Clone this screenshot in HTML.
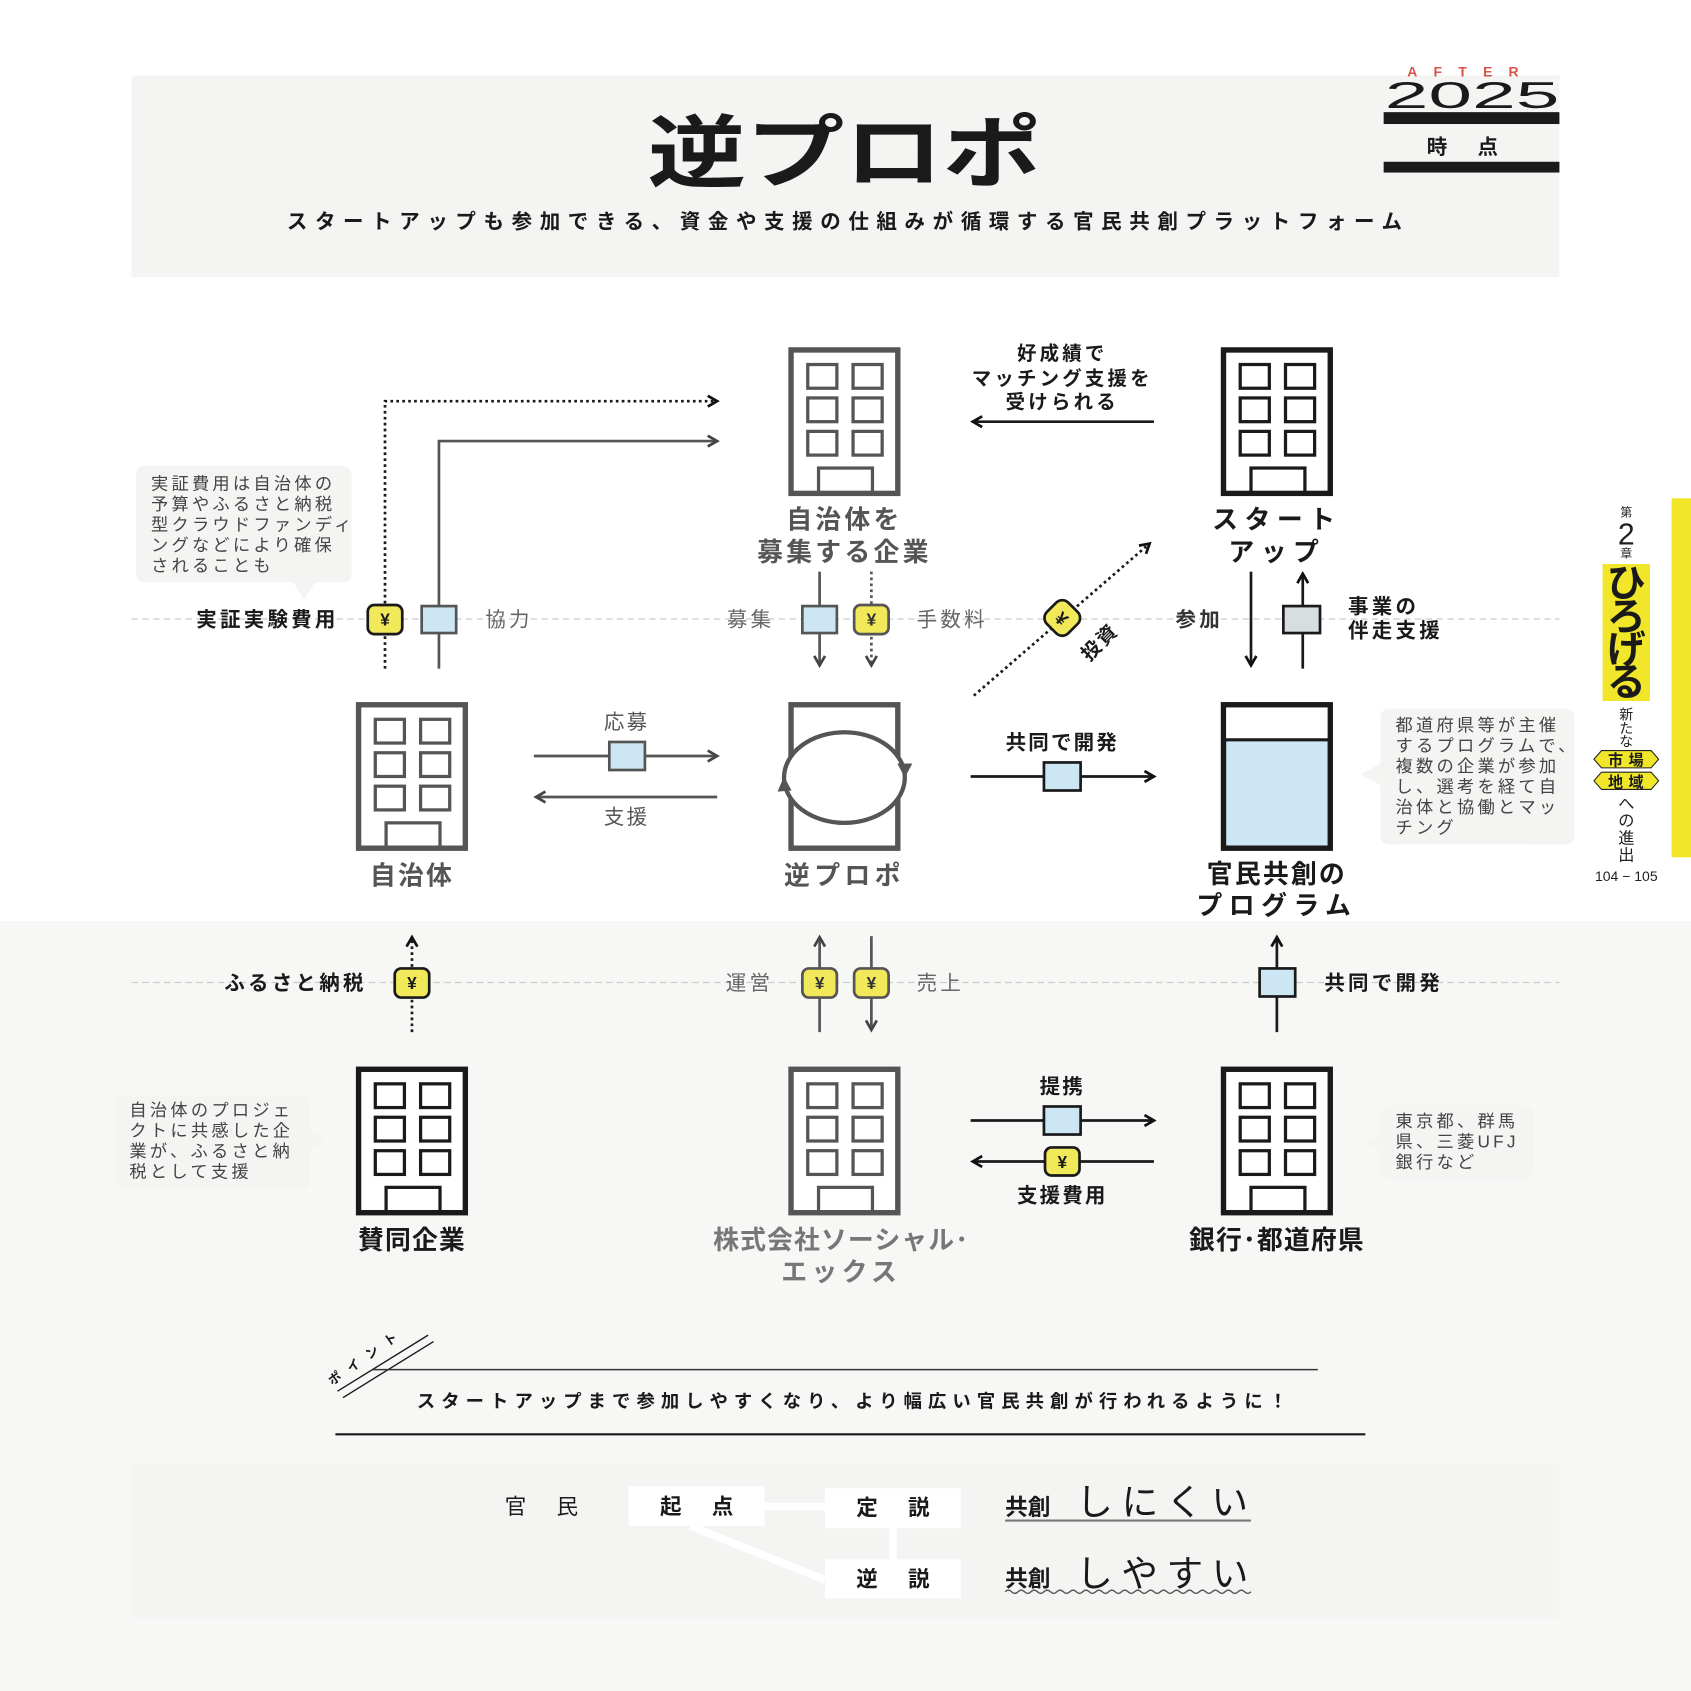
<!DOCTYPE html>
<html><head><meta charset="utf-8"><style>
html,body{margin:0;padding:0;background:#fff}
svg{display:block}
text{font-family:"Liberation Sans","Noto Sans CJK JP",sans-serif}
</style></head><body>
<svg width="1691" height="1691" viewBox="0 0 1568 1568" xmlns="http://www.w3.org/2000/svg">
<defs>
<marker id="ah" viewBox="0 0 10 10" refX="8" refY="5" markerWidth="5" markerHeight="5" orient="auto"><path d="M1,1 L8,5 L1,9" fill="none" stroke="#444" stroke-width="2"/></marker>
<marker id="ahb" viewBox="0 0 10 10" refX="8" refY="5" markerWidth="5" markerHeight="5" orient="auto"><path d="M1,1 L8,5 L1,9" fill="none" stroke="#111" stroke-width="2"/></marker>
<g id="bld"><rect x="2.5" y="2.5" width="99" height="133" fill="#fff" stroke-width="5"/>
<g fill="none" stroke-width="3"><rect x="18" y="16" width="27" height="22"/><rect x="60" y="16" width="27" height="22"/><rect x="18" y="47" width="27" height="22"/><rect x="60" y="47" width="27" height="22"/><rect x="18" y="78" width="27" height="22"/><rect x="60" y="78" width="27" height="22"/><rect x="28" y="112" width="50" height="24"/></g></g>
</defs>
<rect x="0" y="854" width="1568" height="714" fill="#f7f7f5"/>
<!-- header -->
<rect x="122" y="70" width="1324" height="187" fill="#f4f4f3"/>
<text x="783" y="168" font-size="74" font-weight="bold" text-anchor="middle" fill="#1a1a1a" textLength="365" lengthAdjust="spacingAndGlyphs">逆プロポ</text>
<text x="783" y="212" font-size="19" font-weight="bold" text-anchor="middle" fill="#1a1a1a" textLength="1034">スタートアップも参加できる、資金や支援の仕組みが循環する官民共創プラットフォーム</text>
<text x="1364" y="71" font-size="13" font-weight="bold" fill="#d9534a" text-anchor="middle" letter-spacing="15">AFTER</text>
<text x="1365" y="100" font-size="34" fill="#1a1a1a" text-anchor="middle" textLength="162" lengthAdjust="spacingAndGlyphs">2025</text>
<rect x="1283" y="104" width="163" height="11" fill="#1a1a1a"/>
<text x="1370" y="143" font-size="19" font-weight="bold" fill="#1a1a1a" text-anchor="middle" letter-spacing="28">時点</text>
<rect x="1283" y="150" width="163" height="10" fill="#1a1a1a"/>
<!-- sidebar -->
<rect x="1550" y="462" width="18" height="333" fill="#f1e62a"/>
<text x="1508" y="479" font-size="11" text-anchor="middle" fill="#222">第</text>
<text x="1508" y="505" font-size="28" text-anchor="middle" fill="#222">2</text>
<text x="1508" y="517" font-size="11" text-anchor="middle" fill="#222">章</text>
<rect x="1486" y="523" width="44" height="127" fill="#f1e62a"/>
<g font-size="36" font-weight="bold" text-anchor="middle" fill="#1a1a1a"><text x="1508" y="553">ひ</text><text x="1508" y="584">ろ</text><text x="1508" y="615">げ</text><text x="1508" y="645">る</text></g>
<g font-size="13" text-anchor="middle" fill="#222"><text x="1508" y="667">新</text><text x="1508" y="680">た</text><text x="1508" y="692">な</text></g>
<g font-size="15" text-anchor="middle" fill="#222"><text x="1508" y="750">へ</text><text x="1508" y="766">の</text><text x="1508" y="782">進</text><text x="1508" y="798">出</text></g>
<polygon points="1478,704 1485,696 1531,696 1538,704 1531,712 1485,712" fill="#f1e62a" stroke="#222" stroke-width="1"/>
<polygon points="1478,724 1485,716 1531,716 1538,724 1531,732 1485,732" fill="#f1e62a" stroke="#222" stroke-width="1"/>
<text x="1510" y="710" font-size="14" font-weight="bold" text-anchor="middle" fill="#1a1a1a" letter-spacing="5">市場</text>
<text x="1510" y="730" font-size="14" font-weight="bold" text-anchor="middle" fill="#1a1a1a" letter-spacing="5">地域</text>
<text x="1508" y="817" font-size="13" text-anchor="middle" fill="#222">104 − 105</text>
<!-- dashed rows -->
<line x1="122" y1="574" x2="1446" y2="574" stroke="#ccc" stroke-width="1.2" stroke-dasharray="6,4"/>
<line x1="122" y1="911" x2="1446" y2="911" stroke="#ccc" stroke-width="1.2" stroke-dasharray="6,4"/>
<!-- buildings -->
<use href="#bld" x="731" y="322" stroke="#555"/>
<use href="#bld" x="1132" y="322" stroke="#1a1a1a"/>
<use href="#bld" x="330" y="651" stroke="#555"/>
<use href="#bld" x="330" y="989" stroke="#1a1a1a"/>
<use href="#bld" x="731" y="989" stroke="#555"/>
<use href="#bld" x="1132" y="989" stroke="#1a1a1a"/>
<rect x="733.5" y="653.5" width="99" height="133" fill="#fff" stroke="#555" stroke-width="5"/>
<rect x="750" y="656" width="66" height="6" fill="#fff"/>
<ellipse cx="783" cy="721" rx="56" ry="42" fill="#fff" stroke="#555" stroke-width="4"/>
<path d="M721,734 l6,-14 l7,13 z" fill="#555"/><path d="M832,708 l7,13 l7,-13 z" fill="#555"/>
<rect x="1134.5" y="653.5" width="99" height="133" fill="#cde6f3" stroke="#1a1a1a" stroke-width="5"/>
<rect x="1137" y="656" width="94" height="30" fill="#fff"/><line x1="1134" y1="686" x2="1234" y2="686" stroke="#1a1a1a" stroke-width="3"/>
<!-- labels -->
<g font-size="24" font-weight="bold" text-anchor="middle">
<text x="783" y="490" fill="#555" letter-spacing="3">自治体を</text><text x="783" y="520" fill="#555" letter-spacing="3">募集する企業</text>
<text x="1184" y="490" fill="#1a1a1a" letter-spacing="6">スタート</text><text x="1184" y="520" fill="#1a1a1a" letter-spacing="6">アップ</text>
<text x="382" y="820" fill="#555" letter-spacing="2">自治体</text>
<text x="783" y="820" fill="#555" letter-spacing="4">逆プロポ</text>
<text x="1184" y="819" fill="#1a1a1a" letter-spacing="2">官民共創の</text><text x="1184" y="848" fill="#1a1a1a" letter-spacing="6">プログラム</text>
<text x="382" y="1158" fill="#1a1a1a" letter-spacing="1">賛同企業</text>
<text x="780" y="1158" fill="#777" letter-spacing="1">株式会社ソーシャル･</text><text x="780" y="1188" fill="#777" letter-spacing="4">エックス</text>
<text x="1184" y="1158" fill="#1a1a1a" letter-spacing="1">銀行･都道府県</text>
</g>
<!-- row1 connectors -->
<path d="M357,620 V372 H665" fill="none" stroke="#1a1a1a" stroke-width="2.5" stroke-dasharray="2.5,3" marker-end="url(#ahb)"/>
<path d="M407,620 V409 H665" fill="none" stroke="#555" stroke-width="2.5" marker-end="url(#ah)"/>
<rect x="126" y="432" width="200" height="108" rx="8" fill="#f4f4f3"/><polygon points="272,540 292,540 282,556" fill="#f4f4f3"/>
<g font-size="16" fill="#444" letter-spacing="3"><text x="140" y="454">実証費用は自治体の</text><text x="140" y="473">予算やふるさと納税</text><text x="140" y="492">型クラウドファンディ</text><text x="140" y="511">ングなどにより確保</text><text x="140" y="530">されることも</text></g>
<g font-size="19" letter-spacing="3">
<text x="314" y="581" font-weight="bold" text-anchor="end" fill="#1a1a1a">実証実験費用</text>
<text x="450" y="581" fill="#666">協力</text>
<text x="718" y="581" text-anchor="end" fill="#666">募集</text>
<text x="850" y="581" fill="#666">手数料</text>
<text x="1090" y="581" font-weight="bold" fill="#333">参加</text>
<text x="1250" y="569" font-weight="bold" fill="#1a1a1a">事業の</text><text x="1250" y="591" font-weight="bold" fill="#1a1a1a">伴走支援</text>
<text x="340" y="918" font-weight="bold" text-anchor="end" fill="#1a1a1a">ふるさと納税</text>
<text x="717" y="918" text-anchor="end" fill="#666">運営</text>
<text x="850" y="918" fill="#666">売上</text>
<text x="1228" y="918" font-weight="bold" fill="#1a1a1a">共同で開発</text>
</g>
<line x1="760" y1="530" x2="760" y2="617" stroke="#555" stroke-width="2.5" marker-end="url(#ah)"/>
<line x1="808" y1="530" x2="808" y2="617" stroke="#555" stroke-width="2.5" stroke-dasharray="2.5,3" marker-end="url(#ah)"/>
<line x1="903" y1="645" x2="1066" y2="504" stroke="#1a1a1a" stroke-width="2.5" stroke-dasharray="2.5,3" marker-end="url(#ahb)"/>
<g transform="rotate(45 985 573)"><rect x="971" y="559" width="28" height="28" rx="8" fill="#f1e85a" stroke="#1a1a1a" stroke-width="2.5"/><text x="985" y="580" font-size="17" font-weight="bold" text-anchor="middle" fill="#1a1a1a">¥</text></g>
<text x="0" y="0" font-size="18" font-weight="bold" fill="#1a1a1a" letter-spacing="2" transform="translate(1010,614) rotate(-45)">投資</text>
<line x1="1160" y1="530" x2="1160" y2="617" stroke="#1a1a1a" stroke-width="2.5" marker-end="url(#ahb)"/>
<line x1="1208" y1="620" x2="1208" y2="532" stroke="#1a1a1a" stroke-width="2.5" marker-end="url(#ahb)"/>
<g font-size="18" font-weight="bold" text-anchor="middle" fill="#1a1a1a" letter-spacing="3"><text x="985" y="334">好成績で</text><text x="985" y="357">マッチング支援を</text><text x="985" y="379">受けられる</text></g>
<line x1="1070" y1="391" x2="902" y2="391" stroke="#1a1a1a" stroke-width="2.5" marker-end="url(#ahb)"/>
<!-- row2 -->
<text x="581" y="676" font-size="19" text-anchor="middle" fill="#555" letter-spacing="2">応募</text>
<line x1="495" y1="701" x2="665" y2="701" stroke="#555" stroke-width="2.5" marker-end="url(#ah)"/>
<line x1="665" y1="739" x2="497" y2="739" stroke="#555" stroke-width="2.5" marker-end="url(#ah)"/>
<text x="581" y="764" font-size="19" text-anchor="middle" fill="#555" letter-spacing="2">支援</text>
<text x="985" y="695" font-size="19" font-weight="bold" text-anchor="middle" fill="#1a1a1a" letter-spacing="2">共同で開発</text>
<line x1="900" y1="720" x2="1070" y2="720" stroke="#1a1a1a" stroke-width="2.5" marker-end="url(#ahb)"/>
<rect x="1280" y="657" width="180" height="126" rx="8" fill="#f4f4f3"/><polygon points="1280,708 1280,728 1262,718" fill="#f4f4f3"/>
<g font-size="16" fill="#444" letter-spacing="3"><text x="1294" y="678">都道府県等が主催</text><text x="1294" y="697">するプログラムで、</text><text x="1294" y="716">複数の企業が参加</text><text x="1294" y="735">し、選考を経て自</text><text x="1294" y="754">治体と協働とマッ</text><text x="1294" y="773">チング</text></g>
<!-- row3 -->
<line x1="382" y1="957" x2="382" y2="869" stroke="#1a1a1a" stroke-width="2.5" stroke-dasharray="2.5,3" marker-end="url(#ahb)"/>
<line x1="760" y1="957" x2="760" y2="869" stroke="#555" stroke-width="2.5" marker-end="url(#ah)"/>
<line x1="808" y1="868" x2="808" y2="955" stroke="#555" stroke-width="2.5" marker-end="url(#ah)"/>
<line x1="1184" y1="957" x2="1184" y2="869" stroke="#1a1a1a" stroke-width="2.5" marker-end="url(#ahb)"/>
<rect x="107" y="1015" width="181" height="88" rx="8" fill="#f4f4f3"/><polygon points="288,1048 288,1066 302,1057" fill="#f4f4f3"/>
<g font-size="16" fill="#444" letter-spacing="3"><text x="120" y="1035">自治体のプロジェ</text><text x="120" y="1054">クトに共感した企</text><text x="120" y="1073">業が、ふるさと納</text><text x="120" y="1092">税として支援</text></g>
<rect x="1280" y="1025" width="142" height="68" rx="8" fill="#f4f4f3"/><polygon points="1280,1050 1280,1068 1266,1059" fill="#f4f4f3"/>
<g font-size="16" fill="#444" letter-spacing="3"><text x="1294" y="1045">東京都、群馬</text><text x="1294" y="1064">県、三菱UFJ</text><text x="1294" y="1083">銀行など</text></g>
<!-- row4 -->
<text x="985" y="1014" font-size="19" font-weight="bold" text-anchor="middle" fill="#1a1a1a" letter-spacing="2">提携</text>
<line x1="900" y1="1039" x2="1070" y2="1039" stroke="#1a1a1a" stroke-width="2.5" marker-end="url(#ahb)"/>
<line x1="1070" y1="1077" x2="902" y2="1077" stroke="#1a1a1a" stroke-width="2.5" marker-end="url(#ahb)"/>
<text x="985" y="1115" font-size="19" font-weight="bold" text-anchor="middle" fill="#1a1a1a" letter-spacing="2">支援費用</text>
<!-- small boxes -->
<g stroke-width="2.5">
<rect x="391" y="562" width="32" height="25" fill="#cde6f3" stroke="#555"/>
<rect x="744" y="562" width="32" height="25" fill="#cde6f3" stroke="#555"/>
<rect x="1190" y="562" width="34" height="25" fill="#d8dde0" stroke="#1a1a1a"/>
<rect x="565" y="688" width="33" height="26" fill="#cde6f3" stroke="#555"/>
<rect x="968" y="707" width="34" height="26" fill="#cde6f3" stroke="#1a1a1a"/>
<rect x="1168" y="898" width="33" height="26" fill="#cde6f3" stroke="#1a1a1a"/>
<rect x="968" y="1026" width="34" height="26" fill="#cde6f3" stroke="#1a1a1a"/>
</g>
<g stroke-width="2.5" font-size="16" font-weight="bold" text-anchor="middle">
<rect x="341" y="561" width="32" height="27" rx="6" fill="#f1e85a" stroke="#1a1a1a"/><text x="357" y="580" fill="#1a1a1a" stroke="none">¥</text>
<rect x="792" y="561" width="32" height="27" rx="6" fill="#f1e85a" stroke="#555"/><text x="808" y="580" fill="#333" stroke="none">¥</text>
<rect x="366" y="898" width="32" height="27" rx="6" fill="#f1e85a" stroke="#1a1a1a"/><text x="382" y="917" fill="#1a1a1a" stroke="none">¥</text>
<rect x="744" y="898" width="32" height="27" rx="6" fill="#f1e85a" stroke="#555"/><text x="760" y="917" fill="#333" stroke="none">¥</text>
<rect x="792" y="898" width="32" height="27" rx="6" fill="#f1e85a" stroke="#555"/><text x="808" y="917" fill="#333" stroke="none">¥</text>
<rect x="969" y="1064" width="32" height="26" rx="6" fill="#f1e85a" stroke="#1a1a1a"/><text x="985" y="1083" fill="#1a1a1a" stroke="none">¥</text>
</g>
<!-- point -->
<line x1="313" y1="1290" x2="397" y2="1238" stroke="#1a1a1a" stroke-width="1.3"/>
<line x1="318" y1="1296" x2="402" y2="1244" stroke="#1a1a1a" stroke-width="1.3"/>
<text x="0" y="0" font-size="12" font-weight="bold" fill="#1a1a1a" letter-spacing="9" transform="translate(308,1285) rotate(-35)">ポイント</text>
<line x1="345" y1="1270" x2="1222" y2="1270" stroke="#333" stroke-width="1.5"/>
<text x="790" y="1305" font-size="17" font-weight="bold" text-anchor="middle" fill="#1a1a1a" textLength="807">スタートアップまで参加しやすくなり、より幅広い官民共創が行われるように！</text>
<line x1="311" y1="1330" x2="1266" y2="1330" stroke="#1a1a1a" stroke-width="2"/>
<!-- bottom box -->
<rect x="122" y="1357" width="1324" height="143" fill="#f4f4f3"/>
<g stroke="#fff" stroke-width="7"><line x1="709" y1="1397" x2="765" y2="1397"/><line x1="828" y1="1417" x2="828" y2="1446"/><line x1="640" y1="1415" x2="765" y2="1465"/></g>
<rect x="583" y="1378" width="126" height="37" fill="#fff"/>
<rect x="765" y="1380" width="126" height="37" fill="#fff"/>
<rect x="765" y="1446" width="126" height="36" fill="#fff"/>
<g font-size="20" font-weight="bold" fill="#1a1a1a" text-anchor="middle" letter-spacing="28">
<text x="516" y="1404" font-weight="normal">官民</text><text x="660" y="1404">起点</text><text x="842" y="1405">定説</text><text x="842" y="1471">逆説</text></g>
<text x="932" y="1405" font-size="21" font-weight="bold" fill="#1a1a1a">共創</text>
<text x="998" y="1405" font-size="34" fill="#1a1a1a" letter-spacing="8">しにくい</text>
<line x1="932" y1="1410" x2="1160" y2="1410" stroke="#777" stroke-width="2"/>
<text x="932" y="1471" font-size="21" font-weight="bold" fill="#1a1a1a">共創</text>
<text x="998" y="1471" font-size="34" fill="#1a1a1a" letter-spacing="8">しやすい</text>
<path d="M932,1476 q3,-3 6,0 t6,0 t6,0 t6,0 t6,0 t6,0 t6,0 t6,0 t6,0 t6,0 t6,0 t6,0 t6,0 t6,0 t6,0 t6,0 t6,0 t6,0 t6,0 t6,0 t6,0 t6,0 t6,0 t6,0 t6,0 t6,0 t6,0 t6,0 t6,0 t6,0 t6,0 t6,0 t6,0 t6,0 t6,0 t6,0 t6,0 t6,0" fill="none" stroke="#555" stroke-width="1.3"/>
</svg>
</body></html>
